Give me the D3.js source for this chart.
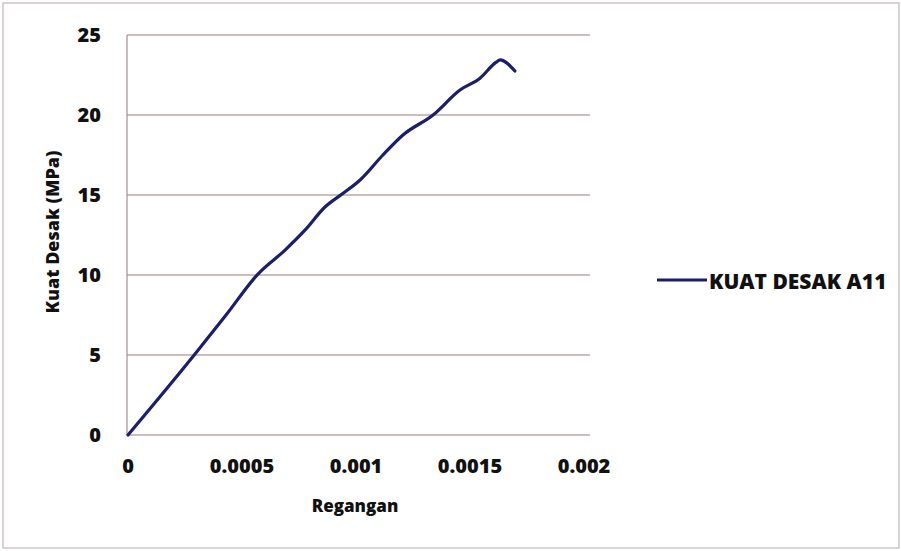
<!DOCTYPE html>
<html>
<head>
<meta charset="utf-8">
<script src="https://cdn.jsdelivr.net/npm/d3@7"></script>
<style>
body { margin: 0; background: #fff; }
text { font-family: "Open Sans", Lato, sans-serif; font-weight: 800; fill: #111; }
</style>
</head>
<body>
<div id="canvas"></div>
<script>
var width = 901,
	height = 551;

// strain (Regangan) and stress (Kuat Desak, MPa)
var regangan = [0, 0.000294, 0.00043, 0.00057, 0.000689, 0.000776, 0.000864, 0.000939,
	0.001018, 0.001118, 0.001206, 0.001338, 0.001456, 0.001544, 0.001615, 0.001632, 0.001697];
var kuatDesak = [0, 5.06, 7.5, 10.06, 11.56, 12.8, 14.25, 15.06,
	15.94, 17.5, 18.75, 20.0, 21.56, 22.3, 23.3, 23.44, 22.75];
var xTicks = [0, 0.0005, 0.001, 0.0015, 0.002];
var yTicks = [0, 5, 10, 15, 20, 25];
var seriesName = "KUAT DESAK A11";

var svg = d3.select("#canvas").append("svg")
	.attr("width", width)
	.attr("height", height)

// outer chart border
svg.append("rect")
	.attr("x", 3).attr("y", 3)
	.attr("width", 896).attr("height", 545)
	.attr("fill", "none")
	.attr("stroke", "#b8a8a8")
	.attr("stroke-width", 1)

var x = d3.scaleLinear().domain([0, 0.002]).range([128, 584]);
var y = d3.scaleLinear().domain([0, 25]).range([435, 35]);

// horizontal gridlines
svg.selectAll(".grid")
	.data(yTicks)
	.enter()
	.append("line")
	.classed("grid", true)
	.attr("x1", 127)
	.attr("x2", 590)
	.attr("y1", function(d){ return y(d); })
	.attr("y2", function(d){ return y(d); })
	.attr("stroke", "#9c7c7c")
	.attr("stroke-width", 1.2)

// vertical axis line
svg.append("line")
	.attr("x1", 127).attr("x2", 127)
	.attr("y1", y(25)).attr("y2", y(0))
	.attr("stroke", "#a09090")
	.attr("stroke-width", 1.2)

// y tick labels
svg.selectAll(".ylab")
	.data(yTicks)
	.enter()
	.append("text")
	.attr("x", 101)
	.attr("y", function(d){ return y(d); })
	.attr("dy", "0.36em")
	.attr("text-anchor", "end")
	.style("font-size", "20px")
	.text(function(d){ return d; })

// x tick labels
svg.selectAll(".xlab")
	.data(xTicks)
	.enter()
	.append("text")
	.attr("x", function(d){ return x(d); })
	.attr("y", 466)
	.attr("dy", "0.36em")
	.attr("text-anchor", "middle")
	.style("font-size", "20px")
	.text(function(d){ return d; })

// axis titles
svg.append("text")
	.attr("x", 355).attr("y", 506)
	.attr("dy", "0.35em")
	.attr("text-anchor", "middle")
	.style("font-size", "17px")
	.text("Regangan")

svg.append("text")
	.attr("transform", "translate(53,232) rotate(-90)")
	.attr("dy", "0.35em")
	.attr("text-anchor", "middle")
	.style("font-size", "18px")
	.text("Kuat Desak (MPa)")

// the curve
var points = regangan.map(function(d, i){ return [d, kuatDesak[i]]; });
var line = d3.line()
	.x(function(d){ return x(d[0]); })
	.y(function(d){ return y(d[1]); })
	.curve(d3.curveMonotoneX)

svg.append("path")
	.datum(points)
	.attr("d", line)
	.attr("fill", "none")
	.attr("stroke", "#1b1f6b")
	.attr("stroke-width", 3.2)
	.attr("stroke-linejoin", "round")
	.attr("stroke-linecap", "round")

// legend
svg.append("line")
	.attr("x1", 657).attr("x2", 707)
	.attr("y1", 280).attr("y2", 280)
	.attr("stroke", "#1b1f6b")
	.attr("stroke-width", 3.2)

svg.append("text")
	.attr("x", 709).attr("y", 281)
	.attr("dy", "0.36em")
	.style("font-size", "21px")
	.text(seriesName)
</script>
</body>
</html>
